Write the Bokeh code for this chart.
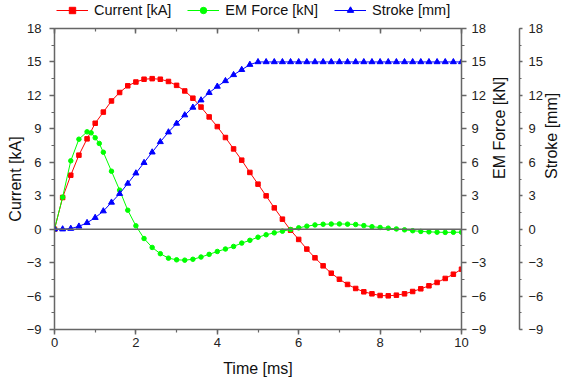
import math
from bokeh.plotting import figure
from bokeh.layouts import column
from bokeh.models import (Range1d, LinearAxis, SingleIntervalTicker,
                          Span, Legend, LegendItem, CustomJSTickFormatter)
from bokeh.embed import file_html
from bokeh.resources import INLINE

# ---------------- data ----------------
time_ms = [0.0, 0.2, 0.4, 0.6, 0.8, 1.0, 1.2, 1.4, 1.6, 1.8, 2.0, 2.2, 2.4, 2.6, 2.8,
           3.0, 3.2, 3.4, 3.6, 3.8, 4.0, 4.2, 4.4, 4.6, 4.8, 5.0, 5.2, 5.4, 5.6, 5.8,
           6.0, 6.2, 6.4, 6.6, 6.8, 7.0, 7.2, 7.4, 7.6, 7.8, 8.0, 8.2, 8.4, 8.6, 8.8,
           9.0, 9.2, 9.4, 9.6, 9.8, 10.0]

current_kA = [0.0, 2.84, 4.84, 6.64, 8.1, 9.5, 10.5, 11.5, 12.26, 12.86, 13.2, 13.45, 13.5,
              13.45, 13.25, 12.9, 12.4, 11.75, 10.95, 10.07, 9.2, 8.22, 7.2, 6.19, 5.09,
              4.04, 2.99, 1.91, 0.9, -0.09, -0.92, -1.79, -2.57, -3.29, -3.95, -4.49,
              -4.96, -5.32, -5.62, -5.8, -5.95, -5.98, -5.92, -5.8, -5.59, -5.35, -5.08,
              -4.78, -4.42, -4.04, -3.59]

force_time_ms = [0.0, 0.2, 0.4, 0.6, 0.8, 0.9, 1.0, 1.1, 1.2, 1.4, 1.6, 1.8, 2.0, 2.2, 2.4,
                 2.6, 2.8, 3.0, 3.2, 3.4, 3.6, 3.8, 4.0, 4.2, 4.4, 4.6, 4.8, 5.0, 5.2, 5.4,
                 5.6, 5.8, 6.0, 6.2, 6.4, 6.6, 6.8, 7.0, 7.2, 7.4, 7.6, 7.8, 8.0, 8.2, 8.4,
                 8.6, 8.8, 9.0, 9.2, 9.4, 9.6, 9.8, 10.0]
force_kN = [0.0, 2.87, 6.13, 8.07, 8.73, 8.64, 8.2, 7.69, 6.9, 5.2, 3.5, 1.7, 0.3, -0.84,
            -1.64, -2.2, -2.6, -2.75, -2.78, -2.7, -2.5, -2.26, -2.0, -1.78, -1.55, -1.25,
            -1.0, -0.72, -0.5, -0.33, -0.18, -0.03, 0.12, 0.27, 0.38, 0.44, 0.46, 0.47,
            0.45, 0.42, 0.32, 0.22, 0.15, 0.09, 0.02, -0.06, -0.14, -0.2, -0.24, -0.27,
            -0.29, -0.28, -0.27]

stroke_mm = [0.0, 0.0, 0.05, 0.25, 0.57, 1.03, 1.62, 2.4, 3.18, 4.1, 5.02, 5.96, 6.9, 7.83,
             8.7, 9.48, 10.23, 10.92, 11.57, 12.24, 12.8, 13.3, 13.84, 14.3, 14.76, 15.0,
             15.0, 15.0, 15.0, 15.0, 15.0, 15.0, 15.0, 15.0, 15.0, 15.0, 15.0, 15.0, 15.0,
             15.0, 15.0, 15.0, 15.0, 15.0, 15.0, 15.0, 15.0, 15.0, 15.0, 15.0, 15.0]

x_limits = (0, 10)
y_limits = (-9, 18)
series_labels = ["Current [kA]", "EM Force [kN]", "Stroke [mm]"]

# ---------------- style ----------------
FONT = "Liberation Sans"
AX = "#666666"
RED, GREEN, BLUE = "#ff0000", "#00ff00", "#0000ff"
MARKERS = [("square", 4.5), ("circle", 4.5), ("triangle", 6)]
COLORS = [RED, GREEN, BLUE]
SERIES = [(time_ms, current_kA), (force_time_ms, force_kN), (time_ms, stroke_mm)]

p = figure(frame_width=407, frame_height=301,
           x_range=Range1d(*x_limits), y_range=Range1d(*y_limits),
           output_backend="svg", toolbar_location=None,
           min_border_left=54, min_border_top=8, min_border_bottom=0, min_border_right=0,
           x_axis_label="Time [ms]", y_axis_label=series_labels[0])
p.extra_y_ranges = {"force": Range1d(*y_limits), "stroke": Range1d(*y_limits)}
p.xgrid.visible = False
p.ygrid.visible = False
p.outline_line_color = None
p.background_fill_color = "white"
p.border_fill_color = "white"


def style(ax, interval, tick_out=5, minor_out=3, standoff=5, title_standoff=5):
    ax.ticker = SingleIntervalTicker(interval=interval, num_minor_ticks=2)
    ax.axis_line_color = AX
    ax.axis_line_width = 1.5
    ax.major_tick_line_color = AX
    ax.minor_tick_line_color = AX
    ax.major_tick_line_width = 1.5
    ax.minor_tick_line_width = 1.2
    ax.major_tick_out = tick_out
    ax.major_tick_in = 0
    ax.minor_tick_out = minor_out
    ax.minor_tick_in = 0
    ax.major_label_text_font = FONT
    ax.major_label_text_font_size = "13px"
    ax.major_label_text_color = "#222222"
    ax.major_label_standoff = standoff
    ax.axis_label_text_font = FONT
    ax.axis_label_text_font_size = "16px"
    ax.axis_label_text_font_style = "normal"
    ax.axis_label_text_color = "#111111"
    ax.axis_label_standoff = title_standoff


style(p.xaxis[0], 2, standoff=3, title_standoff=10)
style(p.yaxis[0], 3, standoff=8, title_standoff=0)

# top mirror axis (ticks inward, no labels)
top = LinearAxis()
style(top, 2)
top.major_tick_out = 0
top.minor_tick_out = 0
top.major_tick_in = 5
top.minor_tick_in = 3
top.major_label_standoff = 0
top.major_label_text_font_size = "1px"
top.formatter = CustomJSTickFormatter(code="return ''")
p.add_layout(top, "above")

# EM force axis (title reads bottom-to-top)
ax_f = LinearAxis(y_range_name="force", axis_label=series_labels[1])
style(ax_f, 3, tick_out=5, minor_out=3, standoff=5, title_standoff=10)
ax_f.axis_label_orientation = math.pi / 2
p.add_layout(ax_f, "right")

# stroke axis
ax_s = LinearAxis(y_range_name="stroke", axis_label=series_labels[2])
style(ax_s, 3, tick_out=3, minor_out=2, standoff=6, title_standoff=5)
ax_s.axis_label_orientation = math.pi / 2
p.add_layout(ax_s, "right")

# zero line
p.add_layout(Span(location=0, dimension="width", line_color=AX, line_width=1.5))

# series
p.line(time_ms, current_kA, line_color=RED, line_width=1)
p.scatter(time_ms, current_kA, marker="square", size=4.5, color=RED)
p.line(force_time_ms, force_kN, line_color=GREEN, line_width=1, y_range_name="force")
p.scatter(force_time_ms, force_kN, marker="circle", size=4.5, color=GREEN, y_range_name="force")
p.line(time_ms, stroke_mm, line_color=BLUE, line_width=1, y_range_name="stroke")
p.scatter(time_ms, stroke_mm, marker="triangle", size=6, color=BLUE, y_range_name="stroke")

# legend strip above the plot (its own small figure; its series lie outside its view)
lg = figure(frame_width=407, frame_height=20, output_backend="svg", toolbar_location=None,
            x_range=Range1d(*x_limits), y_range=Range1d(1000, 1001),
            x_axis_location=None, y_axis_location=None,
            min_border_left=54, min_border_right=0, min_border_top=0, min_border_bottom=0)
lg.xgrid.visible = False
lg.ygrid.visible = False
lg.outline_line_color = None
lg.border_fill_color = "white"

items = []
for label, color, (marker, size), (xs, ys) in zip(series_labels, COLORS, MARKERS, SERIES):
    rl = lg.line(xs, ys, line_color=color, line_width=1)
    rs = lg.scatter(xs, ys, marker=marker, size=size, color=color)
    items.append(LegendItem(label=label, renderers=[rl, rs]))

legend = Legend(items=items, orientation="horizontal", location=(2, 2),
                glyph_width=32, glyph_height=16, label_height=16, label_standoff=6,
                spacing=16, padding=0, margin=0,
                border_line_color=None, background_fill_alpha=0,
                label_text_font=FONT, label_text_font_size="14.5px",
                label_text_color="#111111")
lg.add_layout(legend)

layout = column(lg, p, spacing=0)

open("out.html", "w").write(file_html(layout, INLINE))
